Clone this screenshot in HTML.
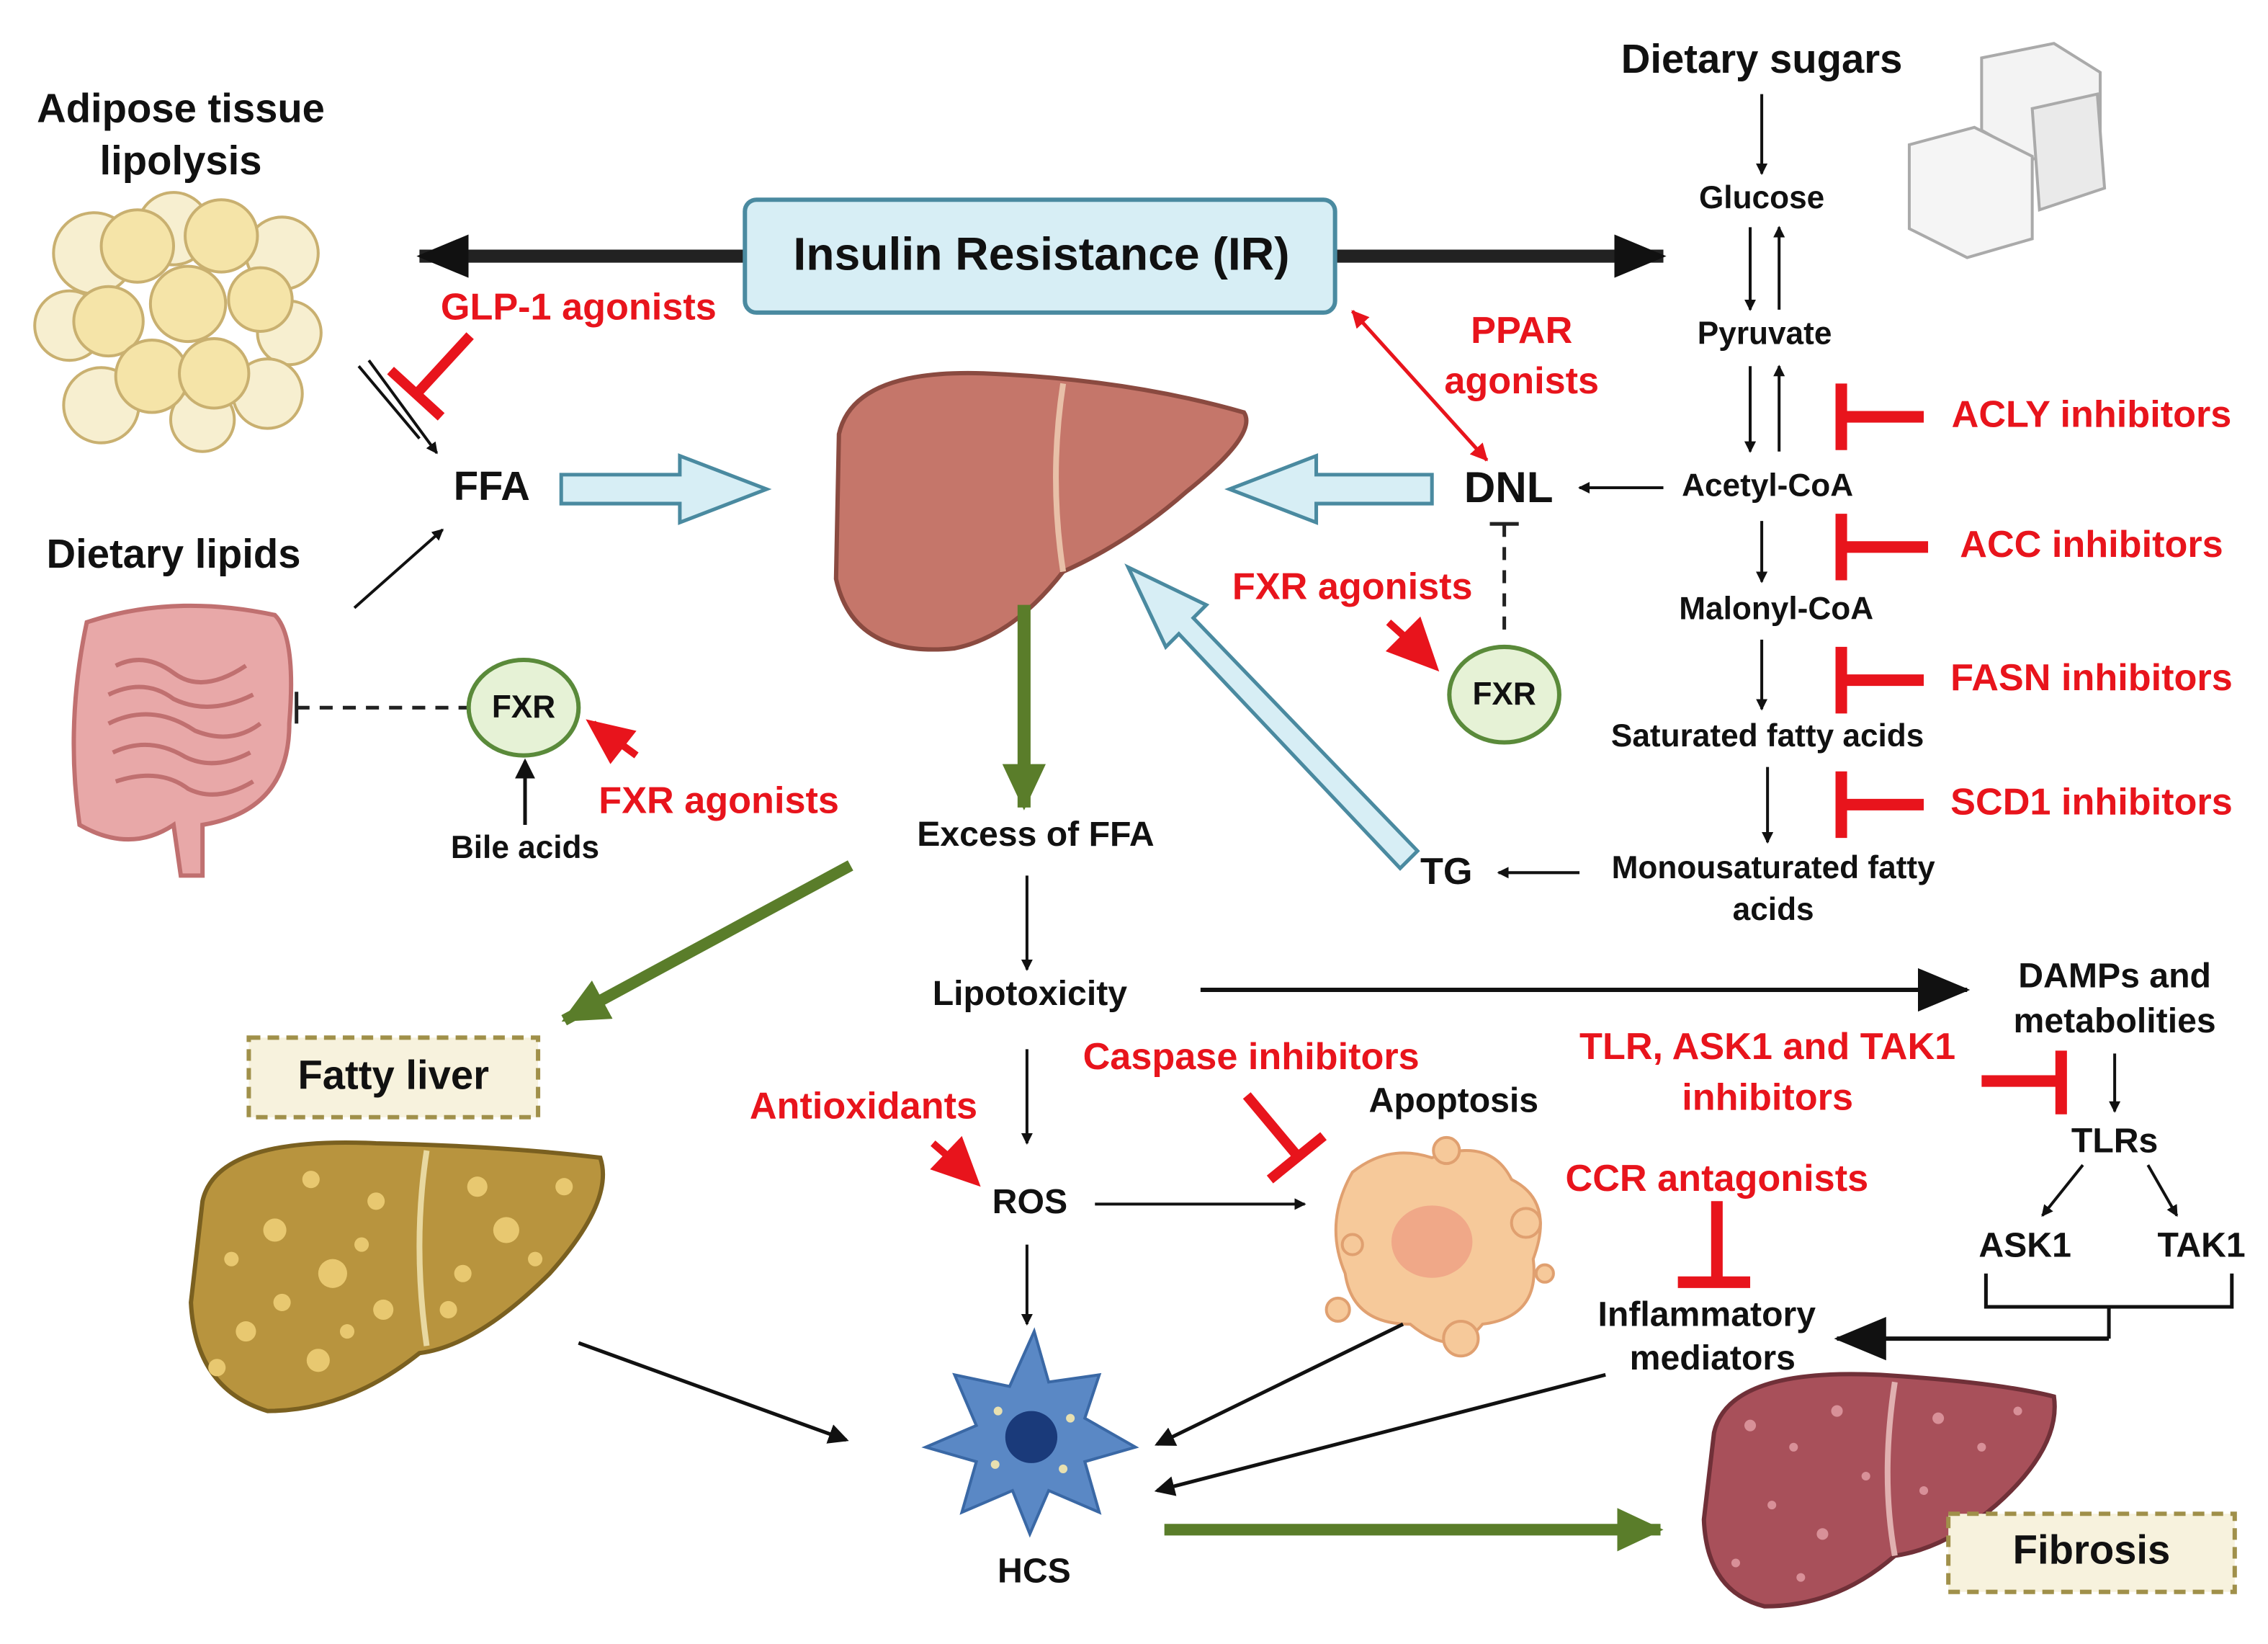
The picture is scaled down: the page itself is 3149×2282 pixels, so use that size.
<!DOCTYPE html>
<html><head><meta charset="utf-8"><style>
html,body{margin:0;padding:0;background:#fff}
svg{display:block}
text{font-family:"Liberation Sans",sans-serif;font-weight:bold;text-anchor:middle;dominant-baseline:middle}
.b{fill:#111}.r{fill:#e8141c}
</style></head><body>
<svg width="3149" height="2282" viewBox="0 0 1568 1136" preserveAspectRatio="none" xmlns="http://www.w3.org/2000/svg">
<defs>
<marker id="ah" markerWidth="8" markerHeight="8" refX="7" refY="4" orient="auto" markerUnits="userSpaceOnUse"><path d="M0,0 L8,4 L0,8 z" fill="#111"/></marker>
<marker id="ahs" markerWidth="14" markerHeight="14" refX="12" refY="7" orient="auto" markerUnits="userSpaceOnUse"><path d="M0,0 L14,7 L0,14 z" fill="#111"/></marker>
<marker id="ahb" markerWidth="36" markerHeight="30" refX="34" refY="15" orient="auto" markerUnits="userSpaceOnUse"><path d="M0,0 L36,15 L0,30 z" fill="#111"/></marker>
<marker id="ahg" markerWidth="32" markerHeight="30" refX="30" refY="15" orient="auto" markerUnits="userSpaceOnUse"><path d="M0,0 L32,15 L0,30 z" fill="#5a7d2a"/></marker>
<marker id="ahr" markerWidth="12" markerHeight="12" refX="11" refY="6" orient="auto-start-reverse" markerUnits="userSpaceOnUse"><path d="M0,0 L12,6 L0,12 z" fill="#e8141c"/></marker>
</defs>

<!-- Adipose -->
<text x="125" y="77" font-size="28" class="b">Adipose tissue</text>
<text x="125" y="113" font-size="28" class="b">lipolysis</text>
<g stroke="#c9b070" stroke-width="2" fill="#f5e4a8">
<circle cx="65" cy="175" r="28" fill="#f7efd0"/><circle cx="120" cy="158" r="25" fill="#f7efd0"/><circle cx="195" cy="175" r="25" fill="#f7efd0"/>
<circle cx="48" cy="225" r="24" fill="#f7efd0"/><circle cx="200" cy="230" r="22" fill="#f7efd0"/><circle cx="70" cy="280" r="26" fill="#f7efd0"/><circle cx="140" cy="290" r="22" fill="#f7efd0"/><circle cx="185" cy="272" r="24" fill="#f7efd0"/>
<circle cx="95" cy="170" r="25"/><circle cx="153" cy="163" r="25"/><circle cx="130" cy="210" r="26"/><circle cx="180" cy="207" r="22"/><circle cx="75" cy="222" r="24"/><circle cx="105" cy="260" r="25"/><circle cx="148" cy="258" r="24"/>
</g>

<!-- IR -->
<line x1="515" y1="177" x2="290" y2="177" stroke="#222" stroke-width="9" marker-end="url(#ahb)"/>
<line x1="923" y1="177" x2="1150" y2="177" stroke="#222" stroke-width="9" marker-end="url(#ahb)"/>
<rect x="515" y="138" width="408" height="78" rx="8" fill="#d7eef5" stroke="#4a8aa0" stroke-width="3"/>
<text x="720" y="178" font-size="32" class="b">Insulin Resistance (IR)</text>

<text x="400" y="214" font-size="26" class="r">GLP-1 agonists</text>
<line x1="325" y1="232" x2="290" y2="270" stroke="#e8141c" stroke-width="7"/>
<line x1="270" y1="256" x2="305" y2="288" stroke="#e8141c" stroke-width="7"/>
<line x1="248" y1="253" x2="290" y2="303" stroke="#111" stroke-width="2"/>
<line x1="255" y1="249" x2="302" y2="313" stroke="#111" stroke-width="2" marker-end="url(#ah)"/>
<text x="340" y="338" font-size="28" class="b">FFA</text>
<path d="M388,328 L470,328 L470,315 L530,338 L470,361 L470,348 L388,348 Z" fill="#d7eef5" stroke="#4a8aa0" stroke-width="2.5"/>

<text x="120" y="385" font-size="28" class="b">Dietary lipids</text>
<line x1="245" y1="420" x2="306" y2="366" stroke="#111" stroke-width="2" marker-end="url(#ah)"/>
<!-- intestine -->
<path d="M60,430 Q45,500 55,570 Q90,590 120,570 L125,605 L140,605 L140,570 Q200,560 200,500 Q205,440 190,425 Q120,410 60,430 Z" fill="#e8a8a8" stroke="#c07070" stroke-width="3"/>
<path d="M80,460 q20,-10 40,5 q20,15 50,-5 M75,480 q25,-12 45,3 q25,12 55,-3 M75,500 q30,-15 60,5 q25,10 45,-5 M78,520 q25,-12 50,3 q20,10 45,-3 M80,540 q30,-10 50,5 q20,10 45,-5" fill="none" stroke="#c07070" stroke-width="3"/>
<line x1="205" y1="489" x2="323" y2="489" stroke="#222" stroke-width="2.5" stroke-dasharray="9,7"/>
<line x1="205" y1="478" x2="205" y2="500" stroke="#222" stroke-width="2.5"/>
<ellipse cx="362" cy="489" rx="38" ry="33" fill="#e6f2d6" stroke="#5a8a3a" stroke-width="3"/>
<text x="362" y="490" font-size="22" class="b">FXR</text>
<line x1="363" y1="570" x2="363" y2="526" stroke="#111" stroke-width="2.5" marker-end="url(#ahs)"/>
<text x="363" y="587" font-size="22" class="b">Bile acids</text>
<line x1="440" y1="522" x2="410" y2="500" stroke="#e8141c" stroke-width="5"/>
<path d="M405,497 L440,505 L422,528 Z" fill="#e8141c"/>
<text x="497" y="555" font-size="26" class="r">FXR agonists</text>

<!-- Liver -->
<path d="M580,300 Q590,255 680,258 Q780,262 860,285 Q870,300 820,340 Q780,375 735,395 Q700,440 660,448 Q590,455 578,400 Z" fill="#c5766a" stroke="#8a4a40" stroke-width="3"/>
<path d="M735,265 Q725,330 735,395" fill="none" stroke="#e8c0a8" stroke-width="4"/>

<line x1="708" y1="418" x2="708" y2="558" stroke="#5a7d2a" stroke-width="9" marker-end="url(#ahg)"/>
<text x="716" y="578" font-size="24" class="b">Excess of FFA</text>
<line x1="588" y1="598" x2="390" y2="705" stroke="#5a7d2a" stroke-width="8" marker-end="url(#ahg)"/>

<rect x="172" y="717" width="200" height="55" fill="#f7f2dd" stroke="#a0904a" stroke-width="3" stroke-dasharray="8,5"/>
<text x="272" y="745" font-size="28" class="b">Fatty liver</text>
<path d="M140,830 Q150,785 260,790 Q350,792 415,800 Q425,830 380,880 Q330,930 290,935 Q240,975 185,975 Q135,960 132,900 Z" fill="#b8943e" stroke="#7a6020" stroke-width="3"/>
<path d="M295,795 Q285,860 295,930" fill="none" stroke="#e8d8a0" stroke-width="4"/>
<g fill="#e8c870"><circle cx="190" cy="850" r="8"/><circle cx="230" cy="880" r="10"/><circle cx="170" cy="920" r="7"/><circle cx="260" cy="830" r="6"/><circle cx="350" cy="850" r="9"/><circle cx="320" cy="880" r="6"/><circle cx="220" cy="940" r="8"/><circle cx="390" cy="820" r="6"/><circle cx="265" cy="905" r="7"/><circle cx="160" cy="870" r="5"/><circle cx="215" cy="815" r="6"/><circle cx="250" cy="860" r="5"/><circle cx="330" cy="820" r="7"/><circle cx="370" cy="870" r="5"/><circle cx="195" cy="900" r="6"/><circle cx="150" cy="945" r="6"/><circle cx="240" cy="920" r="5"/><circle cx="310" cy="905" r="6"/></g>
<line x1="400" y1="928" x2="585" y2="995" stroke="#111" stroke-width="2.5" marker-end="url(#ahs)"/>

<line x1="710" y1="605" x2="710" y2="670" stroke="#111" stroke-width="2" marker-end="url(#ah)"/>
<text x="712" y="688" font-size="24" class="b">Lipotoxicity</text>
<line x1="830" y1="684" x2="1360" y2="684" stroke="#111" stroke-width="3" marker-end="url(#ahb)"/>
<line x1="710" y1="725" x2="710" y2="790" stroke="#111" stroke-width="2" marker-end="url(#ah)"/>
<text x="712" y="832" font-size="24" class="b">ROS</text>
<text x="597" y="766" font-size="26" class="r">Antioxidants</text>
<line x1="645" y1="790" x2="660" y2="803" stroke="#e8141c" stroke-width="5"/>
<path d="M678,820 L643,808 L665,785 Z" fill="#e8141c"/>
<line x1="757" y1="832" x2="902" y2="832" stroke="#111" stroke-width="2" marker-end="url(#ah)"/>
<text x="865" y="732" font-size="26" class="r">Caspase inhibitors</text>
<line x1="862" y1="757" x2="898" y2="800" stroke="#e8141c" stroke-width="7"/>
<line x1="878" y1="815" x2="915" y2="785" stroke="#e8141c" stroke-width="7"/>
<text x="1005" y="762" font-size="24" class="b">Apoptosis</text>
<path d="M935,810 Q960,790 990,800 Q1030,785 1045,815 Q1075,830 1060,870 Q1065,910 1025,915 Q1005,940 975,915 Q935,915 930,880 Q915,845 935,810 Z" fill="#f6c99a" stroke="#e0a070" stroke-width="2"/>
<ellipse cx="990" cy="858" rx="28" ry="25" fill="#f0a888"/>
<g fill="#f6c99a" stroke="#e0a070" stroke-width="2"><circle cx="1055" cy="845" r="10"/><circle cx="925" cy="905" r="8"/><circle cx="1010" cy="925" r="12"/><circle cx="1000" cy="795" r="9"/><circle cx="935" cy="860" r="7"/><circle cx="1068" cy="880" r="6"/></g>

<line x1="710" y1="860" x2="710" y2="915" stroke="#111" stroke-width="2" marker-end="url(#ah)"/>
<path d="M715,920 L725,955 L760,950 L750,980 L785,1000 L750,1010 L760,1045 L725,1030 L712,1060 L700,1030 L665,1045 L675,1010 L640,1000 L675,985 L660,950 L698,958 Z" fill="#5a88c5" stroke="#3a68a5" stroke-width="2"/>
<circle cx="713" cy="993" r="18" fill="#1a3a7a"/>
<g fill="#e8e0b0"><circle cx="690" cy="975" r="3"/><circle cx="740" cy="980" r="3"/><circle cx="735" cy="1015" r="3"/><circle cx="688" cy="1012" r="3"/></g>
<text x="715" y="1087" font-size="24" class="b">HCS</text>
<line x1="970" y1="915" x2="800" y2="998" stroke="#111" stroke-width="2.5" marker-end="url(#ahs)"/>
<line x1="1110" y1="950" x2="800" y2="1030" stroke="#111" stroke-width="2.5" marker-end="url(#ahs)"/>
<line x1="805" y1="1057" x2="1148" y2="1057" stroke="#5a7d2a" stroke-width="8" marker-end="url(#ahg)"/>

<!-- fibrosis liver -->
<path d="M1185,990 Q1195,945 1300,950 Q1380,955 1420,965 Q1425,1000 1380,1040 Q1345,1070 1310,1075 Q1270,1110 1220,1110 Q1180,1100 1178,1050 Z" fill="#a8505a" stroke="#703038" stroke-width="3"/>
<path d="M1310,955 Q1300,1020 1310,1075" fill="none" stroke="#e0b0b0" stroke-width="4"/>
<g fill="#d89098"><circle cx="1210" cy="985" r="4"/><circle cx="1240" cy="1000" r="3"/><circle cx="1270" cy="975" r="4"/><circle cx="1225" cy="1040" r="3"/><circle cx="1260" cy="1060" r="4"/><circle cx="1290" cy="1020" r="3"/><circle cx="1340" cy="980" r="4"/><circle cx="1370" cy="1000" r="3"/><circle cx="1395" cy="975" r="3"/><circle cx="1200" cy="1080" r="3"/><circle cx="1245" cy="1090" r="3"/><circle cx="1330" cy="1030" r="3"/></g>
<rect x="1347" y="1046" width="198" height="54" fill="#f7f2dd" stroke="#a0904a" stroke-width="3" stroke-dasharray="8,5"/>
<text x="1446" y="1073" font-size="28" class="b">Fibrosis</text>

<!-- right pathway -->
<text x="1218" y="43" font-size="28" class="b">Dietary sugars</text>
<g stroke="#aaa" stroke-width="2">
<path d="M1370,40 L1420,30 L1452,50 L1452,100 L1405,110 L1370,90 Z" fill="#f3f3f3"/>
<path d="M1405,75 L1450,65 L1455,130 L1410,145 Z" fill="#eaeaea"/>
<path d="M1320,100 L1365,88 L1405,108 L1405,165 L1360,178 L1320,158 Z" fill="#f5f5f5"/>
</g>
<line x1="1218" y1="65" x2="1218" y2="120" stroke="#111" stroke-width="2" marker-end="url(#ah)"/>
<text x="1218" y="138" font-size="22" class="b">Glucose</text>
<line x1="1210" y1="157" x2="1210" y2="214" stroke="#111" stroke-width="2" marker-end="url(#ah)"/>
<line x1="1230" y1="214" x2="1230" y2="157" stroke="#111" stroke-width="2" marker-end="url(#ah)"/>
<text x="1220" y="232" font-size="22" class="b">Pyruvate</text>
<line x1="1210" y1="253" x2="1210" y2="312" stroke="#111" stroke-width="2" marker-end="url(#ah)"/>
<line x1="1230" y1="312" x2="1230" y2="253" stroke="#111" stroke-width="2" marker-end="url(#ah)"/>
<text x="1222" y="337" font-size="22" class="b">Acetyl-CoA</text>
<line x1="1150" y1="337" x2="1092" y2="337" stroke="#111" stroke-width="2" marker-end="url(#ah)"/>
<text x="1043" y="339" font-size="30" class="b">DNL</text>
<path d="M990,328 L910,328 L910,315 L850,338 L910,361 L910,348 L990,348 Z" fill="#d7eef5" stroke="#4a8aa0" stroke-width="2.5"/>
<line x1="935" y1="215" x2="1028" y2="318" stroke="#e8141c" stroke-width="2.5" marker-start="url(#ahr)" marker-end="url(#ahr)"/>
<text x="1052" y="230" font-size="26" class="r">PPAR</text>
<text x="1052" y="265" font-size="26" class="r">agonists</text>
<line x1="1040" y1="362" x2="1040" y2="440" stroke="#222" stroke-width="2.5" stroke-dasharray="9,7"/>
<line x1="1030" y1="362" x2="1050" y2="362" stroke="#222" stroke-width="2.5"/>
<ellipse cx="1040" cy="480" rx="38" ry="33" fill="#e6f2d6" stroke="#5a8a3a" stroke-width="3"/>
<text x="1040" y="481" font-size="22" class="b">FXR</text>
<text x="935" y="407" font-size="26" class="r">FXR agonists</text>
<line x1="960" y1="430" x2="980" y2="448" stroke="#e8141c" stroke-width="5"/>
<path d="M995,464 L958,450 L982,426 Z" fill="#e8141c"/>

<line x1="1218" y1="360" x2="1218" y2="402" stroke="#111" stroke-width="2" marker-end="url(#ah)"/>
<text x="1228" y="422" font-size="22" class="b">Malonyl-CoA</text>
<line x1="1218" y1="442" x2="1218" y2="490" stroke="#111" stroke-width="2" marker-end="url(#ah)"/>
<text x="1222" y="510" font-size="22" class="b">Saturated fatty acids</text>
<line x1="1222" y1="530" x2="1222" y2="582" stroke="#111" stroke-width="2" marker-end="url(#ah)"/>
<text x="1226" y="601" font-size="22" class="b">Monousaturated fatty</text>
<text x="1226" y="630" font-size="22" class="b">acids</text>
<line x1="1092" y1="603" x2="1036" y2="603" stroke="#111" stroke-width="2" marker-end="url(#ah)"/>
<text x="1000" y="604" font-size="26" class="b">TG</text>
<path d="M968,600 L815,438 L806,447 L780,392 L834,418 L825,427 L980,588 Z" fill="#d7eef5" stroke="#4a8aa0" stroke-width="2.5"/>

<g stroke="#e8141c" stroke-width="8">
<line x1="1273" y1="265" x2="1273" y2="311"/><line x1="1273" y1="288" x2="1330" y2="288"/>
<line x1="1273" y1="355" x2="1273" y2="401"/><line x1="1273" y1="378" x2="1333" y2="378"/>
<line x1="1273" y1="447" x2="1273" y2="493"/><line x1="1273" y1="470" x2="1330" y2="470"/>
<line x1="1273" y1="533" x2="1273" y2="579"/><line x1="1273" y1="556" x2="1330" y2="556"/>
</g>
<text x="1446" y="288" font-size="26" class="r">ACLY inhibitors</text>
<text x="1446" y="378" font-size="26" class="r">ACC inhibitors</text>
<text x="1446" y="470" font-size="26" class="r">FASN inhibitors</text>
<text x="1446" y="556" font-size="26" class="r">SCD1 inhibitors</text>

<text x="1462" y="676" font-size="24" class="b">DAMPs and</text>
<text x="1462" y="707" font-size="24" class="b">metabolities</text>
<line x1="1462" y1="728" x2="1462" y2="768" stroke="#111" stroke-width="2" marker-end="url(#ah)"/>
<text x="1462" y="790" font-size="24" class="b">TLRs</text>
<line x1="1440" y1="805" x2="1412" y2="840" stroke="#111" stroke-width="2" marker-end="url(#ah)"/>
<line x1="1485" y1="805" x2="1505" y2="840" stroke="#111" stroke-width="2" marker-end="url(#ah)"/>
<text x="1400" y="862" font-size="24" class="b">ASK1</text>
<text x="1522" y="862" font-size="24" class="b">TAK1</text>
<path d="M1373,880 L1373,903 L1543,903 L1543,880 M1458,903 L1458,925" fill="none" stroke="#111" stroke-width="2.5"/>
<line x1="1458" y1="925" x2="1270" y2="925" stroke="#111" stroke-width="3" marker-end="url(#ahb)"/>
<text x="1222" y="725" font-size="26" class="r">TLR, ASK1 and TAK1</text>
<text x="1222" y="760" font-size="26" class="r">inhibitors</text>
<g stroke="#e8141c" stroke-width="8">
<line x1="1370" y1="747" x2="1425" y2="747"/><line x1="1425" y1="726" x2="1425" y2="770"/>
<line x1="1187" y1="830" x2="1187" y2="886"/><line x1="1160" y1="886" x2="1210" y2="886"/>
</g>
<text x="1187" y="816" font-size="26" class="r">CCR antagonists</text>
<text x="1180" y="910" font-size="24" class="b">Inflammatory</text>
<text x="1184" y="940" font-size="24" class="b">mediators</text>
</svg>
</body></html>
